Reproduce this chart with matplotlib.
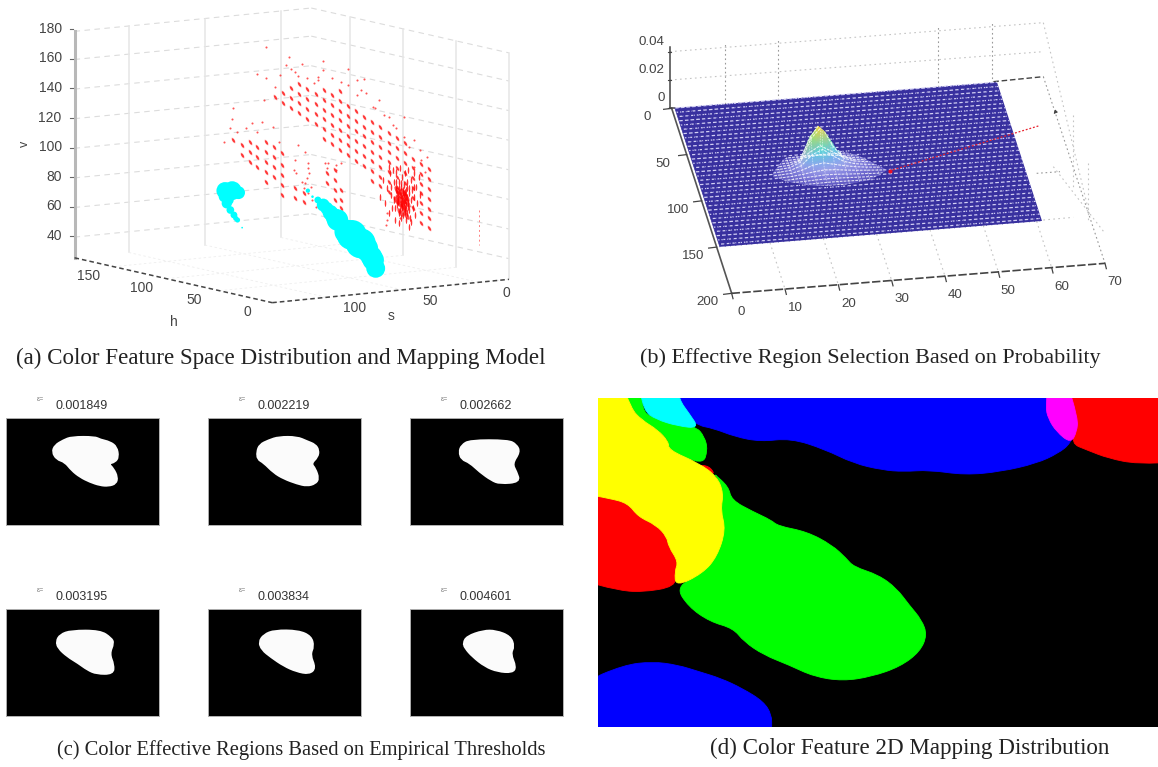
"""Four panel figure: colour feature space, probability surface, threshold masks, 2D mapping."""

import matplotlib

matplotlib.use("Agg")
import matplotlib.pyplot as plt
import numpy as np
from matplotlib.colors import LinearSegmentedColormap
from matplotlib.patches import PathPatch, Polygon
from matplotlib.path import Path
from matplotlib.transforms import Affine2D

W, H = 1158, 767
SANS = "Liberation Sans"
SERIF = "Liberation Serif"

# ---- panel (a): picture-plane readings of the projected scatter
V_TICKS = [40, 60, 80, 100, 120, 140, 160, 180]
H_TICKS = [0, 50, 100, 150]
S_TICKS = [0, 50, 100]
H_WALL_TICKS = [0, 50, 100, 150]

MAIN_X = [770, 793, 816, 838, 861, 884, 906, 929, 952, 974, 997, 1020, 1042, 1065, 1088, 1111, 1133, 1156, 1179, 1202]
MAIN_Y0 = [291.5, 278, 264.5, 251, 267, 283, 269.5, 285.5, 272.5, 318, 334, 350, 366, 382, 398, 414, 430, 475.5, 491.5, 507.5]
MAIN_N = [1, 2, 3, 4, 4, 4, 6, 6, 7, 6, 6, 6, 7, 7, 7, 7, 7, 6, 7, 7]

LEFT_X = [677, 677, 700, 700, 700, 721, 721, 721, 744, 744, 744, 744, 744, 766, 766, 766, 766, 789, 789, 789, 789, 789, 653]
LEFT_Y = [435, 465, 425, 455, 485, 440, 470, 500, 425, 455, 485, 515, 545, 442, 472, 502, 530, 460, 495, 525, 555, 585, 420]
MID_X = [825, 825, 850, 850, 915, 915, 938, 938, 938, 938, 955, 955, 955]
MID_Y = [565, 595, 580, 605, 520, 550, 510, 540, 570, 600, 570, 600, 625]

SPECK_X = [745, 808, 845, 905, 800, 815, 905, 975, 720, 745, 770, 825, 860, 890, 930, 955, 1000, 1020, 975, 1000,
           1025, 1045, 1090, 1130, 1110, 1130, 1160, 1180, 1160, 740, 652, 650, 645, 628, 665, 705, 735, 765, 780, 835,
           855, 918, 825, 822, 955, 940, 890, 1060, 1010, 862, 862, 865, 860, 855, 850, 862, 870, 845, 875, 885,
           830, 910, 915, 940, 1085, 1083, 1080, 1120, 1175, 1195, 785, 835, 880, 1050, 1075, 1100, 1145, 1190, 690, 720]
SPECK_Y = [140, 172, 192, 183, 195, 208, 210, 208, 222, 235, 262, 215, 235, 230, 235, 245, 240, 238, 255, 285,
           280, 320, 352, 350, 385, 410, 420, 480, 500, 300, 325, 357, 385, 425, 395, 370, 365, 380, 425, 435,
           455, 490, 480, 510, 490, 510, 240, 300, 270, 490, 505, 520, 535, 550, 565, 580, 560, 545, 600, 620,
           520, 490, 505, 495, 640, 660, 675, 655, 450, 470, 225, 228, 250, 325, 345, 375, 440, 515, 385, 395]

DENSE_X = [1065, 1072, 1078, 1084, 1088, 1092, 1096, 1099, 1102, 1104, 1106, 1108, 1110, 1112, 1114, 1116, 1118, 1120, 1121, 1122,
           1123, 1124, 1125, 1126, 1127, 1128, 1129, 1130, 1131, 1132, 1133, 1134, 1135, 1136, 1137, 1138, 1139, 1140, 1141, 1142,
           1143, 1144, 1145, 1146, 1148, 1150, 1152, 1154, 1156, 1158, 1160, 1162, 1165, 1168, 1172, 1176, 1100, 1108, 1115, 1122,
           1128, 1135, 1142, 1118, 1126, 1133, 1120, 1128, 1136, 1112, 1124, 1131, 1139, 1105, 1095, 1090, 1150, 1158, 1144, 1116]
DENSE_Y = [590, 540, 610, 565, 640, 520, 585, 625, 545, 600, 660, 570, 515, 615, 590, 545, 640, 575, 505, 610,
           655, 560, 595, 530, 625, 580, 645, 610, 555, 590, 635, 520, 600, 660, 570, 615, 545, 590, 640, 510,
           605, 565, 630, 580, 655, 540, 600, 570, 625, 520, 590, 645, 560, 610, 530, 585, 510, 545, 605, 585,
           600, 575, 620, 565, 610, 625, 630, 570, 590, 580, 550, 605, 565, 625, 560, 500, 665, 560, 680, 670]
CORE_X = [1112, 1120, 1128, 1136, 1116, 1124, 1132, 1140, 1120, 1128, 1136, 1108]
CORE_Y = [570, 585, 575, 590, 610, 600, 620, 610, 635, 625, 645, 600]

CYAN_X = [630, 650, 668, 640, 622, 628, 640, 635, 645, 655, 660, 665, 678, 862, 875, 890, 905, 915, 925, 935, 945, 960, 970, 985, 1000, 1010, 1025, 1030, 1040, 1045, 1052]
CYAN_Y = [572, 572, 578, 575, 575, 590, 600, 610, 630, 645, 655, 660, 683, 572, 590, 600, 615, 625, 638, 650, 660, 680, 695, 705, 720, 730, 745, 755, 770, 780, 805]
CYAN_R = [20, 22, 15, 20, 12, 13, 12, 12, 9, 8, 6, 6, 2, 5, 3, 8, 15, 15, 18, 20, 25, 20, 28, 35, 30, 35, 28, 25, 25, 25, 22]

# ---- panel (b): height table (x 1e-4) over the surface grid
SURF_X = [14, 16, 18, 20, 22, 24, 26, 28, 30, 32, 34, 36]
SURF_Y = [62, 65, 68, 71, 74, 77, 80, 83, 86, 89, 92, 95, 98]
SURF_Z = [
    [0, 0, 0, 1, 3, 4, 3, 2, 1, 0, 0, 0],
    [0, 0, 1, 5, 14, 20, 14, 7, 3, 1, 0, 0],
    [0, 1, 3, 14, 60, 100, 60, 18, 6, 3, 1, 0],
    [0, 2, 6, 30, 180, 270, 150, 40, 12, 6, 2, 0],
    [1, 3, 9, 40, 190, 260, 130, 45, 20, 10, 3, 0],
    [1, 4, 10, 35, 100, 130, 80, 40, 20, 10, 4, 1],
    [1, 4, 9, 24, 50, 60, 45, 30, 18, 10, 4, 1],
    [1, 3, 7, 15, 25, 32, 28, 20, 13, 8, 3, 0],
    [0, 2, 5, 10, 14, 18, 16, 12, 8, 4, 1, 0],
    [0, 1, 3, 5, 8, 10, 9, 7, 4, 2, 0, 0],
    [0, 0, 1, 3, 4, 5, 5, 3, 2, 1, 0, 0],
    [0, 0, 0, 1, 2, 2, 2, 1, 1, 0, 0, 0],
    [0, 0, 0, 0, 0, 1, 0, 0, 0, 0, 0, 0],
]
MOUND_X = [430, 460, 500, 530, 555, 585, 620, 680, 770, 720, 640, 560, 480, 430]
MOUND_Y = [460, 420, 390, 330, 310, 335, 390, 405, 450, 480, 495, 497, 485, 470]
B_X_TICKS = [0, 10, 20, 30, 40, 50, 60, 70]
B_Y_TICKS = [0, 50, 100, 150, 200]
B_Z_TICKS = [0, 0.02, 0.04]
B_Z_LABELS = ["0", "0.02", "0.04"]

# ---- panel (c): thresholds and mask outlines
THRESHOLDS = ["0.001849", "0.002219", "0.002662", "0.003195", "0.003834", "0.004601"]
MASK_X = [
    [157, 165, 190, 215, 285, 300, 330, 350, 355, 345, 325, 340, 352, 348, 325, 300, 270, 240, 215, 195, 170],
    [170, 178, 205, 235, 290, 320, 345, 355, 352, 332, 345, 355, 345, 320, 290, 250, 220, 190, 172],
    [778, 785, 810, 925, 950, 960, 937, 950, 960, 900, 875, 840, 810, 785],
    [155, 165, 195, 275, 305, 312, 300, 312, 310, 265, 240, 215, 185, 160],
    [712, 725, 755, 820, 855, 862, 852, 867, 850, 815, 780, 745, 720],
    [1275, 1285, 1330, 1365, 1405, 1415, 1405, 1420, 1410, 1370, 1335, 1300, 1280],
]
MASK_Y = [
    [200, 180, 165, 155, 155, 163, 170, 185, 215, 230, 235, 250, 275, 295, 302, 300, 290, 275, 255, 230, 222],
    [200, 178, 165, 155, 155, 168, 178, 195, 215, 235, 250, 280, 295, 302, 295, 280, 262, 232, 222],
    [200, 180, 165, 165, 178, 200, 235, 260, 290, 295, 285, 260, 232, 222],
    [185, 165, 153, 153, 175, 190, 222, 255, 282, 282, 270, 250, 230, 205],
    [187, 165, 152, 153, 170, 200, 225, 265, 282, 275, 258, 232, 210],
    [190, 170, 153, 153, 170, 200, 222, 262, 278, 275, 260, 230, 205],
]

# ---- panel (d): region outlines (points past the frame are clipped)
BLUE_TOP_X = [205, 280, 330, 390, 460, 545, 640, 720, 800, 860, 930, 1030, 1130, 1230, 1290, 1325, 1345, 1310, 1310, 205]
BLUE_TOP_Y = [24, 105, 115, 140, 155, 145, 178, 220, 240, 245, 240, 255, 245, 220, 190, 160, 100, 24, -40, -40]
GREEN_TOP_X = [40, 130, 130, 160, 280, 305, 314, 300, 205, 205, 175, 130, 100]
GREEN_TOP_Y = [-40, -40, 60, 85, 108, 140, 180, 225, 180, 150, 120, 90, 50]
CYAN_REG_X = [120, 220, 235, 262, 290, 230, 170, 135]
CYAN_REG_Y = [-40, -40, 30, 70, 115, 108, 88, 62]
YELLOW_X = [-40, 70, 100, 130, 175, 205, 205, 290, 340, 358, 350, 364, 340, 300, 225, 222, 232, 205, 200, 170, 120, 92, 40, -40]
YELLOW_Y = [-40, -40, 55, 90, 120, 155, 180, 220, 260, 310, 360, 420, 500, 550, 590, 545, 515, 470, 440, 405, 380, 340, 325, 310]
RED_LEFT_X = [-40, 40, 92, 120, 170, 200, 205, 232, 222, 225, 130, 60, -40]
RED_LEFT_Y = [310, 325, 340, 380, 405, 440, 470, 515, 545, 590, 607, 600, 570]
RED_SLIVER_X = [285, 318, 335, 305]
RED_SLIVER_Y = [225, 228, 255, 240]
GREEN_X = [330, 372, 380, 440, 490, 510, 590, 660, 700, 720, 790, 840, 875, 910, 925, 905, 850, 770, 690, 610, 540, 470, 415,
           385, 320, 260, 225, 300, 340, 362, 350, 358, 340]
GREEN_Y = [250, 290, 330, 365, 390, 408, 425, 465, 505, 530, 555, 595, 645, 690, 735, 785, 830, 860, 873, 860, 825, 795, 755,
           715, 695, 650, 590, 550, 500, 420, 360, 310, 260]
RED_TOP_X = [1310, 1640, 1640, 1510, 1430, 1370, 1325, 1345, 1310]
RED_TOP_Y = [-40, -40, 215, 222, 205, 180, 160, 100, 24]
MAGENTA_X = [1265, 1310, 1345, 1342, 1325, 1285, 1262, 1255]
MAGENTA_Y = [-40, -40, 85, 125, 160, 125, 85, 50]
BLUE_LOW_X = [-40, 80, 160, 230, 290, 350, 410, 470, 492, 492, 492, -40]
BLUE_LOW_Y = [880, 825, 815, 825, 845, 865, 895, 935, 975, 1012, 1090, 1090]


def px_axes(fig, left, top, right, bottom, xlim, ylim):
    ax = fig.add_axes([left / W, 1 - bottom / H, (right - left) / W, (bottom - top) / H])
    ax.set_xlim(*xlim)
    ax.set_ylim(*ylim)
    ax.set_axis_off()
    ax.patch.set_alpha(0)
    return ax


def rounded_patch(xs, ys, **kw):
    # closed outline with corners rounded through the edge midpoints
    pts = np.column_stack([xs, ys]).astype(float)
    mids = (pts + np.roll(pts, -1, axis=0)) / 2
    verts = [mids[-1]]
    codes = [Path.MOVETO]
    for p, m in zip(pts, mids):
        verts += [p, m]
        codes += [Path.CURVE3, Path.CURVE3]
    return PathPatch(Path(verts, codes), **kw)


def proj_a(h, s, v):
    # oblique projection of the (h, s, v) box
    x = 1425 - 2.96 * h - 4.26 * (s + 20)
    y = 838 - 0.72 * h + 0.45 * (s + 20) - 4.44 * (v - 26)
    return x, y


def proj_b(x, y, z=0.0):
    px = 125 + 16.0 * x + 0.9 * y
    py = 265 - 1.286 * x + 2.775 * y - 4600 * z
    return px, py


def line3(ax, proj, a, b, **kw):
    xa, ya = proj(*a)
    xb, yb = proj(*b)
    ax.plot([xa, xb], [ya, yb], **kw)


def draw_a(fig):
    ax = px_axes(fig, 0, 0, 560, 340, (0, 1568), (1020, 0))
    h_max, s_max, s_min, v_min, v_max = 187, 135.6, -20, 26, 179
    grid = dict(color="#dcdcdc", lw=0.8, dashes=(5, 4), zorder=1)
    solid = dict(color="#e6e6e6", lw=1.1, zorder=1)
    floor = dict(color="#eeeeee", lw=0.6, dashes=(3, 3), zorder=1)

    for v in V_TICKS:
        line3(ax, proj_a, (h_max, s_max, min(v, v_max)), (h_max, s_min, min(v, v_max)), **grid)
        line3(ax, proj_a, (h_max, s_min, min(v, v_max)), (0, s_min, min(v, v_max)), **grid)
    for s in S_TICKS:
        line3(ax, proj_a, (h_max, s, v_min), (h_max, s, v_max), **solid)
        line3(ax, proj_a, (h_max, s, v_min), (0, s, v_min), **floor)
    for h in H_WALL_TICKS:
        line3(ax, proj_a, (h, s_min, v_min), (h, s_min, v_max), **solid)
        line3(ax, proj_a, (h, s_min, v_min), (h, s_max, v_min), **floor)

    # solid left axis, dashed floor axes
    line3(ax, proj_a, (h_max, s_max, v_min), (h_max, s_max, v_max), color="#b8b8b8", lw=2.2, zorder=2)
    line3(ax, proj_a, (h_max, s_max, v_min), (0, s_max, v_min), color="#444444", lw=1.1, dashes=(3, 2), zorder=2)
    line3(ax, proj_a, (0, s_max, v_min), (0, s_min, v_min), color="#444444", lw=1.1, dashes=(3, 2), zorder=2)

    for v in V_TICKS:
        x, y = proj_a(h_max, s_max, v)
        ax.plot([x - 14, x - 3], [y - 2, y - 2], color="#666666", lw=0.8)
        ax.text(x - 36, y - 3, str(v), ha="right", va="center", fontsize=10, family=SANS, color="#444444")
    for h in H_TICKS:
        x, y = proj_a(h, s_max, v_min)
        ax.text(x - 70, y + 28, str(h), ha="center", va="center", fontsize=10, family=SANS, color="#444444")
    for s in S_TICKS:
        x, y = proj_a(0, s, v_min)
        ax.text(x + 78, y + 33, str(s), ha="center", va="center", fontsize=10, family=SANS, color="#444444")
    ax.text(487, 966, "h", ha="center", va="center", fontsize=10, family=SANS, color="#444444")
    ax.text(1095, 948, "s", ha="center", va="center", fontsize=10, family=SANS, color="#444444")
    ax.text(70, 432, "v", ha="center", va="center", fontsize=9, rotation=90, family=SANS, color="#444444")

    blob = Path.unit_circle().transformed(Affine2D().scale(1, 0.42).rotate_deg(-58))
    streak = Path.unit_circle().transformed(Affine2D().scale(0.22, 1))
    xs, ys = [], []
    for x0, y0, n in zip(MAIN_X, MAIN_Y0, MAIN_N):
        for i in range(n):
            xs.append(x0)
            ys.append(y0 + 29.5 * i)
    xs += LEFT_X + MID_X
    ys += LEFT_Y + MID_Y
    ax.scatter(xs, ys, marker=blob, s=20, color="#ff7070", alpha=0.3, linewidths=0, zorder=3)
    ax.scatter(xs, ys, marker=blob, s=11, color="#ff1c1c", alpha=0.85, linewidths=0, zorder=3)
    ax.scatter(SPECK_X, SPECK_Y, s=2.2, color="#ff2a2a", alpha=0.8, linewidths=0, zorder=3)
    ax.scatter(DENSE_X, DENSE_Y, marker=streak, s=24, color="#ff1010", alpha=0.85, linewidths=0, zorder=3)
    ax.scatter(CORE_X, CORE_Y, marker=blob, s=40, color="#ff0000", alpha=0.7, linewidths=0, zorder=3)
    ax.plot([1341, 1341], [630, 735], color="#ff8080", lw=0.7, dashes=(2, 3), zorder=3)

    sizes = 0.264 * (1.2 * np.array(CYAN_R, dtype=float)) ** 2
    ax.scatter(CYAN_X, CYAN_Y, s=sizes, color="#00ffff", linewidths=0, zorder=4)


def draw_b(fig):
    ax = px_axes(fig, 630, 20, 1130, 340, (0, 1500), (960, 0))
    grid = dict(color="#999999", lw=0.8, dashes=(1.5, 2.5), zorder=1)
    faint = dict(color="#c4c4c4", lw=0.8, dashes=(1.5, 3), zorder=1)

    # walls behind the plane
    for x in [10, 20, 50, 60]:
        px, py = proj_b(x, 0, 0)
        ax.plot([px, px], [py, py - 180], **grid)
    ax.plot([120, 1240], [95, 8], **faint)
    ax.plot([120, 1240], [180, 95], **faint)
    ax.plot([1240, 1425], [170, 730], **grid)
    ax.plot([1240, 1380], [8, 590], **faint)
    ax.plot([1330, 1330], [285, 500], **faint)
    ax.plot([1375, 1375], [430, 600], **faint)
    ax.plot([1270, 1425], [440, 640], **faint)
    ax.plot([1220, 1290], [460, 455], **grid)
    ax.plot([1240, 1330], [600, 592], **faint)
    for x in [10, 20, 30, 40, 50, 60]:
        line3(ax, proj_b, (x, 150), (x, 200), **faint)

    # plane
    plane = [proj_b(0.6, 0), proj_b(61, 0), proj_b(61, 150), proj_b(0.6, 150)]
    ax.add_patch(Polygon(plane, closed=True, facecolor="#38309f", edgecolor="none", zorder=2))
    for i, y in enumerate(np.arange(0, 151, 4.6)):
        line3(ax, proj_b, (0.6, y), (61, y), color="#d2cff4", lw=0.9,
              linestyle=((i % 3) * 1.5, (3.0, 1.6)), zorder=3)
    for x in np.arange(0.6, 61.1, 1.0):
        line3(ax, proj_b, (x, 0), (x, 150), color="#38309f", lw=0.5, zorder=3)

    # surface over the plane, clipped to the mound silhouette
    cmap = LinearSegmentedColormap.from_list(
        "surf",
        [(0, "#5d55c0"), (0.04, "#7f7cdc"), (0.12, "#9fa4ea"), (0.3, "#6fb0f0"), (0.5, "#50e0d0"),
         (0.72, "#a0e070"), (0.9, "#ffdc40"), (1, "#ffc830")],
    )
    gx, gy = np.meshgrid(SURF_X, SURF_Y)
    gz = np.array(SURF_Z) * 1e-4
    sx, sy = proj_b(gx, gy, gz)
    clip = Polygon(np.column_stack([MOUND_X, MOUND_Y]), closed=True, transform=ax.transData)
    mesh = ax.pcolormesh(sx, sy, gz, shading="gouraud", cmap=cmap, vmin=0, vmax=0.027, zorder=4)
    mesh.set_clip_path(clip)
    for r in range(sx.shape[0]):
        ln, = ax.plot(sx[r], sy[r], color="white", lw=0.8, dashes=(2.5, 1), alpha=0.8, zorder=5)
        ln.set_clip_path(clip)
    for c in range(sx.shape[1]):
        ln, = ax.plot(sx[:, c], sy[:, c], color="white", lw=0.6, dashes=(2, 1.2), alpha=0.55, zorder=5)
        ln.set_clip_path(clip)

    # red line and point
    ax.plot([1225, 780], [318, 452], color="#e8222e", lw=0.9, dashes=(1.5, 1.5), zorder=6)
    ax.scatter([780], [452], s=9, color="#e8102a", linewidths=0, zorder=7)
    ax.annotate("", xy=(1265, 288), xytext=(1282, 270), arrowprops=dict(arrowstyle="-|>", color="#444444", lw=0.7, mutation_scale=5))

    # frame
    dark = dict(color="#444444", lw=1.1, zorder=2)
    ax.plot([120, 120], [80, 265], **dark)
    ax.plot([120, 135], [265, 265], **dark)
    line3(ax, proj_b, (0, 0), (0, 200), color="#555555", lw=1.2, zorder=2)
    line3(ax, proj_b, (0, 200), (70, 200), color="#444444", lw=1.2, dashes=(5, 1.5), zorder=2)
    ax.plot([1090, 1240], [185, 170], color="#444444", lw=1.0, dashes=(4, 2), zorder=1)

    for x in B_X_TICKS:
        px, py = proj_b(x, 200)
        ax.plot([px, px + 4], [py, py + 16], color="#444444", lw=0.9)
        ax.text(px + 30, py + 57, str(x), ha="center", va="center", fontsize=9.6, family=SANS, color="#444444")
    for y in B_Y_TICKS:
        px, py = proj_b(0, y)
        ax.plot([px - 24, px], [py + 3, py], color="#444444", lw=0.9)
        ax.text(px - 72, py + 27, str(y), ha="center", va="center", fontsize=9.6, family=SANS, color="#444444")
    for z, lab in zip(B_Z_TICKS, B_Z_LABELS):
        py = 265 - 4250 * z
        ax.plot([113, 122], [py, py], color="#444444", lw=0.8)
        ax.text(104, py - 30, lab, ha="right", va="center", fontsize=9.6, family=SANS, color="#444444")


def draw_c(fig):
    lefts = [6, 208, 410, 6, 208, 410]
    rights = [159, 361, 563, 159, 361, 563]
    tops = [418, 418, 418, 609, 609, 609]
    # per mask: x range of the frame in the readings
    x_ranges = [(18, 477), (23, 482), (630, 1090), (17, 436), (572, 992), (1128, 1550)]
    y_ranges = [(418, 98), (418, 98), (418, 98), (407, 88), (407, 88), (407, 88)]
    for i in range(6):
        ax = fig.add_axes([lefts[i] / W, 1 - (tops[i] + 106.5) / H, (rights[i] - lefts[i]) / W, 106.5 / H])
        ax.set_facecolor("black")
        ax.set_xlim(*x_ranges[i])
        ax.set_ylim(*y_ranges[i])
        ax.set_xticks([])
        ax.set_yticks([])
        for sp in ax.spines.values():
            sp.set_color("#b0b0b0")
            sp.set_linewidth(0.7)
        ax.add_patch(rounded_patch(MASK_X[i], MASK_Y[i], facecolor="#fbfbfb", edgecolor="#fbfbfb", lw=1.5))
        y_txt = tops[i] - 12
        fig.text((lefts[i] + 50) / W, 1 - y_txt / H, THRESHOLDS[i], ha="left", va="center", fontsize=9, family=SANS, color="#333333")
        fig.text((lefts[i] + 31) / W, 1 - (y_txt - 7) / H, "\u03b5=", ha="left", va="center", fontsize=5, family=SANS, color="#777777")


def draw_d(fig):
    ax = fig.add_axes([597.5 / W, 1 - 727.3 / H, (1158 - 597.5) / W, (727.3 - 398) / H])
    ax.set_facecolor("black")
    ax.set_xlim(7, 1568)
    ax.set_ylim(1012, 24)
    ax.set_xticks([])
    ax.set_yticks([])
    for sp in ax.spines.values():
        sp.set_visible(False)
    regions = [
        (BLUE_TOP_X, BLUE_TOP_Y, "#0000ff"),
        (GREEN_TOP_X, GREEN_TOP_Y, "#00ff00"),
        (CYAN_REG_X, CYAN_REG_Y, "#00ffff"),
        (RED_LEFT_X, RED_LEFT_Y, "#ff0000"),
        (RED_SLIVER_X, RED_SLIVER_Y, "#ff0000"),
        (GREEN_X, GREEN_Y, "#00ff00"),
        (YELLOW_X, YELLOW_Y, "#ffff00"),
        (RED_TOP_X, RED_TOP_Y, "#ff0000"),
        (MAGENTA_X, MAGENTA_Y, "#ff00ff"),
        (BLUE_LOW_X, BLUE_LOW_Y, "#0000ff"),
    ]
    for xs, ys, col in regions:
        ax.add_patch(rounded_patch(xs, ys, facecolor=col, edgecolor=col, lw=0.6))


def main():
    fig = plt.figure(figsize=(W / 100, H / 100), dpi=100, facecolor="white")
    draw_a(fig)
    draw_b(fig)
    draw_c(fig)
    draw_d(fig)

    caps = [
        ("(a) Color Feature Space Distribution and Mapping Model", 16, 358, 16.55),
        ("(b) Effective Region Selection Based on Probability", 640, 358, 15.9),
        ("(c) Color Effective Regions Based on Empirical Thresholds", 57, 750, 14.8),
        ("(d) Color Feature 2D Mapping Distribution", 710, 748, 16.6),
    ]
    for text, x, y, size in caps:
        fig.text(x / W, 1 - y / H, text, ha="left", va="center", fontsize=size, family=SERIF, color="#222222")
    fig.savefig("out.png", dpi=100)


if __name__ == "__main__":
    main()
